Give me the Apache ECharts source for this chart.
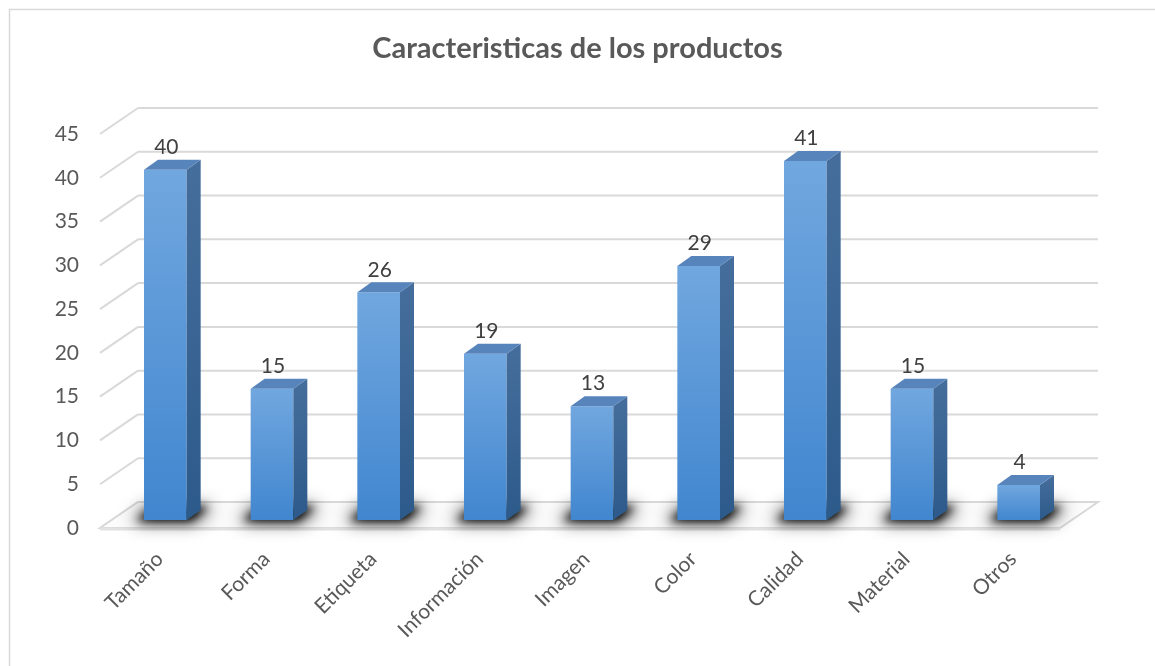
<!DOCTYPE html>
<html>
<head>
<meta charset="utf-8">
<script src="https://cdn.jsdelivr.net/npm/echarts@6/dist/echarts.min.js"></script>
<style>
html,body{margin:0;padding:0;background:#fff;}
#chart{width:1155px;height:666px;}
</style>
</head>
<body>
<div id="chart"></div>
<script>
// ---- data ----
const titleText = 'Caracteristicas de los productos';
const categories = ['Tamaño', 'Forma', 'Etiqueta', 'Información', 'Imagen', 'Color', 'Calidad', 'Material', 'Otros'];
const values = [40, 15, 26, 19, 13, 29, 41, 15, 4];
const yTicks = [0, 5, 10, 15, 20, 25, 30, 35, 40, 45];
const yMin = 0, yMax = 45, yStep = 5;

// ---- 3D look constants (pixel offsets of depth planes relative to the bar plane) ----
const FRONT = [-12, 8];   // front edge of the floor / side wall
const BACK = [26, -18];   // back wall
const BAR_D = [14, -10];  // bar depth
const FONT = 'Lato, "Open Sans", sans-serif';
const TXT = '#595959';
const GRID_C = '#d9d9d9';
const SHIFT = 3000;       // shadow drawn off-canvas, only its blur is shown

const chart = echarts.init(document.getElementById('chart'));

function gridlineItem(params, api) {
  const cs = params.coordSys;
  const v = api.value(1);
  const y = api.coord([0, v])[1];
  const x0 = cs.x, x1 = cs.x + cs.width;
  return {
    type: 'group',
    children: [
      { type: 'line', shape: { x1: x0 + BACK[0], y1: y + BACK[1], x2: x1 + BACK[0], y2: y + BACK[1] },
        style: { stroke: GRID_C, lineWidth: 2 } },
      { type: 'line', shape: { x1: x0 + FRONT[0], y1: y + FRONT[1], x2: x0 + BACK[0], y2: y + BACK[1] },
        style: { stroke: GRID_C, lineWidth: 2 } }
    ]
  };
}

function floorItem(params, api) {
  const cs = params.coordSys;
  const y = api.coord([0, yMin])[1];
  const x0 = cs.x, x1 = cs.x + cs.width;
  return {
    type: 'group',
    children: [
      { type: 'polygon', shape: { points: [
          [x0 + FRONT[0], y + FRONT[1]], [x1 + FRONT[0], y + FRONT[1]],
          [x1 + BACK[0], y + BACK[1]], [x0 + BACK[0], y + BACK[1]] ] },
        style: { fill: '#fcfcfc', stroke: GRID_C, lineWidth: 2 } },
      { type: 'line', shape: { x1: x0 + FRONT[0], y1: y + FRONT[1] + 1, x2: x1 + FRONT[0], y2: y + FRONT[1] + 1 },
        style: { stroke: '#e2e2e2', lineWidth: 3 } }
    ]
  };
}

function shadowShape(xl, xr, yb, grow, blur, alpha) {
  return {
    type: 'polygon',
    x: -SHIFT,
    shape: { points: [
      [xl - 8 - grow, yb + 1], [xr + 4 + grow, yb + 1],
      [xr + BAR_D[0] + 8 + grow, yb + BAR_D[1] - 3], [xl + BAR_D[0] - 4 - grow, yb + BAR_D[1] - 3] ] },
    style: { fill: '#000', shadowBlur: blur, shadowOffsetX: SHIFT, shadowColor: 'rgba(0,0,0,' + alpha + ')' }
  };
}

function shadowItem(params, api) {
  const i = api.value(0);
  const base = api.coord([i, yMin]);
  const bw = api.size([1, 0])[0] * 0.40;
  const xl = base[0] - bw / 2, xr = base[0] + bw / 2, yb = base[1];
  return {
    type: 'group',
    children: [
      shadowShape(xl, xr, yb, 4, 18, 0.9),
      shadowShape(xl, xr, yb, 0, 8, 0.95)
    ]
  };
}

const frontGrad = new echarts.graphic.LinearGradient(0, 0, 0, 1, [
  { offset: 0, color: '#71a7df' }, { offset: 1, color: '#4186cf' }]);
const sideGrad = new echarts.graphic.LinearGradient(0, 0, 0, 1, [
  { offset: 0, color: '#466e9c' }, { offset: 1, color: '#2c5a8a' }]);

function barItem(params, api) {
  const i = api.value(0), v = api.value(1);
  const base = api.coord([i, yMin]);
  const top = api.coord([i, v]);
  const bw = api.size([1, 0])[0] * 0.40;
  const xl = base[0] - bw / 2, xr = base[0] + bw / 2, yb = base[1], yt = top[1];
  const dx = BAR_D[0], dy = BAR_D[1];
  return {
    type: 'group',
    children: [
      { type: 'rect', shape: { x: xl, y: yt, width: bw, height: yb - yt }, style: { fill: frontGrad } },
      { type: 'polygon', shape: { points: [[xr, yt], [xr + dx, yt + dy], [xr + dx, yb + dy], [xr, yb]] },
        style: { fill: sideGrad } },
      { type: 'polygon', shape: { points: [[xl, yt], [xl + dx, yt + dy], [xr + dx, yt + dy], [xr, yt]] },
        style: { fill: '#5884bc' } },
      { type: 'text', x: base[0] + 1, y: yt + dy - 2,
        style: { text: String(v), fill: '#404040', font: '21px ' + FONT, align: 'center', verticalAlign: 'bottom' } }
    ]
  };
}

const option = {
  backgroundColor: '#ffffff',
  animation: false,
  title: {
    text: titleText,
    left: 'center',
    top: 29,
    textStyle: { fontFamily: FONT, fontSize: 29, fontWeight: 'bold', color: TXT }
  },
  graphic: [{
    type: 'rect', silent: true, z: -10,
    shape: { x: 9.5, y: 9.5, width: 1300, height: 800 },
    style: { fill: null, stroke: GRID_C, lineWidth: 1.5 }
  }],
  grid: [
    { left: 112, right: 83, top: 126, bottom: 146 },   // bar plane
    { left: 100, right: 95, top: 134, bottom: 138 }    // front plane (value labels)
  ],
  xAxis: [
    { type: 'category', gridIndex: 0, data: categories,
      axisLine: { show: false }, axisTick: { show: false },
      axisLabel: { interval: 0, rotate: 45, margin: 30, padding: [0, 8, 0, 0],
        fontFamily: FONT, fontSize: 21, color: TXT } },
    { type: 'category', gridIndex: 1, data: categories, show: false }
  ],
  yAxis: [
    { type: 'value', gridIndex: 0, min: yMin, max: yMax, interval: yStep,
      axisLabel: { show: false }, axisLine: { show: false }, axisTick: { show: false }, splitLine: { show: false } },
    { type: 'value', gridIndex: 1, min: yMin, max: yMax, interval: yStep,
      axisLine: { show: false }, axisTick: { show: false }, splitLine: { show: false },
      axisLabel: { margin: 21, fontFamily: FONT, fontSize: 21, color: TXT } }
  ],
  series: [
    { type: 'custom', name: 'grid', xAxisIndex: 0, yAxisIndex: 0, silent: true, z: 1,
      renderItem: gridlineItem, data: yTicks.map(v => [0, v]) },
    { type: 'custom', name: 'floor', xAxisIndex: 0, yAxisIndex: 0, silent: true, z: 2,
      renderItem: floorItem, data: [[0, yMin]] },
    { type: 'custom', name: 'shadow', xAxisIndex: 0, yAxisIndex: 0, silent: true, z: 3, clip: false,
      renderItem: shadowItem, data: values.map((v, i) => [i, v]) },
    { type: 'custom', name: 'Caracteristicas', xAxisIndex: 0, yAxisIndex: 0, z: 4,
      renderItem: barItem, data: values.map((v, i) => [i, v]) }
  ]
};
chart.setOption(option);
</script>
</body>
</html>
